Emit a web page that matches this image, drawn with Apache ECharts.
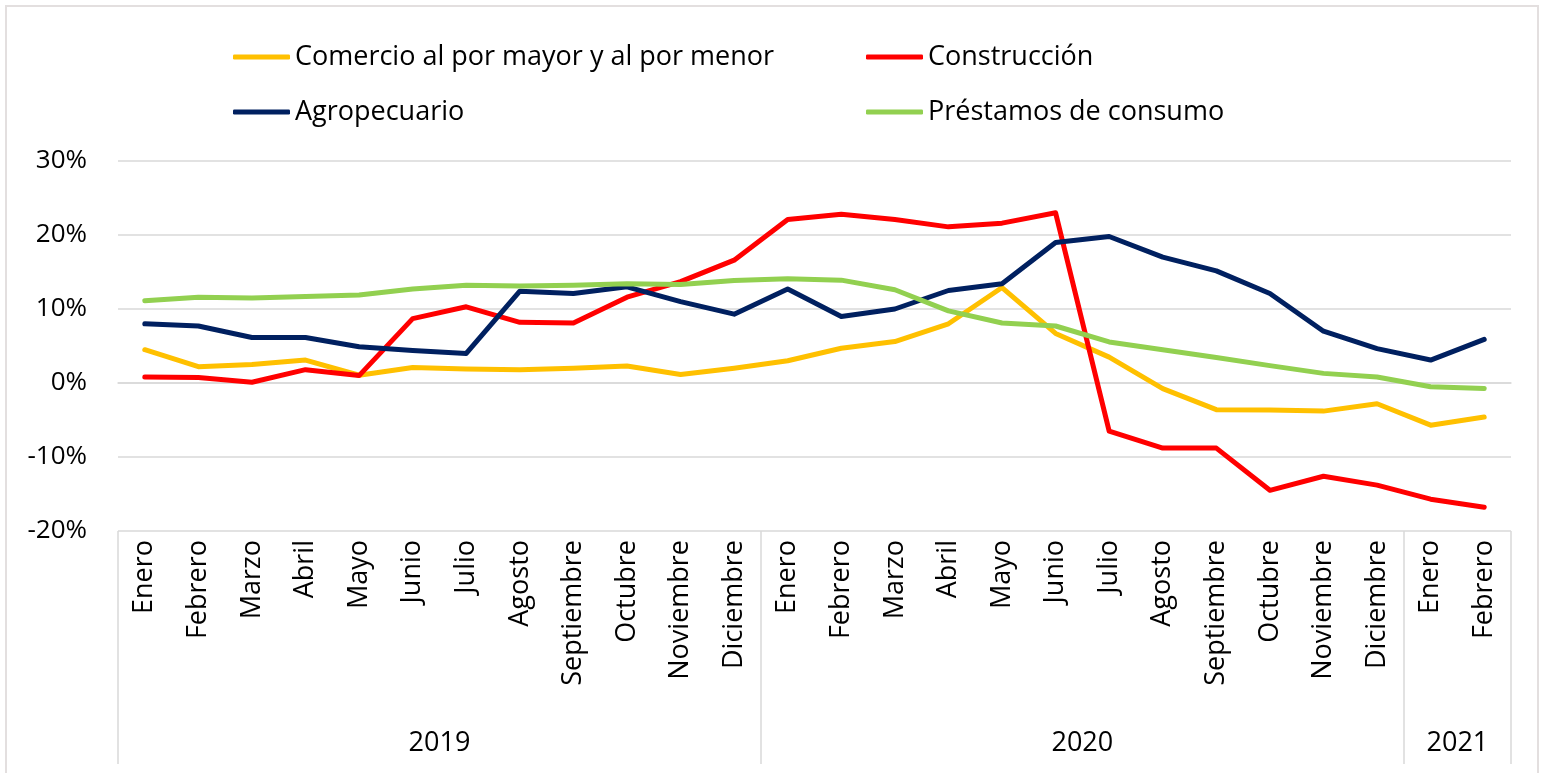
<!DOCTYPE html>
<html>
<head>
<meta charset="utf-8">
<script src="https://cdn.jsdelivr.net/npm/echarts@6/dist/echarts.min.js"></script>
<style>
  html, body { margin: 0; padding: 0; background: #fff; }
  #chart { width: 1541px; height: 773px; }
</style>
</head>
<body>
<div id="chart"></div>
<script>
const months = [
  'Enero', 'Febrero', 'Marzo', 'Abril', 'Mayo', 'Junio', 'Julio', 'Agosto',
  'Septiembre', 'Octubre', 'Noviembre', 'Diciembre',
  'Enero', 'Febrero', 'Marzo', 'Abril', 'Mayo', 'Junio', 'Julio', 'Agosto',
  'Septiembre', 'Octubre', 'Noviembre', 'Diciembre',
  'Enero', 'Febrero'
];
const years = [
  '2019', '2019', '2019', '2019', '2019', '2019', '2019', '2019', '2019', '2019', '2019', '2019',
  '2020', '2020', '2020', '2020', '2020', '2020', '2020', '2020', '2020', '2020', '2020', '2020',
  '2021', '2021'
];
// index of the month where each year starts (group boundaries)
const yearStarts = [0, 12, 24];
// month index right of each year's centre, where the year text is hung
const yearLabelAt = [6, 18, 25];

const yTicks = [-20, -10, 0, 10, 20, 30];

// % growth
const comercio = [4.5, 2.2, 2.5, 3.1, 1.05, 2.1, 1.9, 1.8, 2.0, 2.3, 1.15, 2.0,
  3.0, 4.7, 5.6, 8.0, 12.9, 6.7, 3.5, -0.75, -3.6, -3.65, -3.8, -2.8, -5.7, -4.6];
const construccion = [0.8, 0.75, 0.1, 1.8, 1.0, 8.7, 10.3, 8.2, 8.1, 11.6, 13.7, 16.6,
  22.1, 22.8, 22.1, 21.1, 21.6, 23.0, -6.5, -8.8, -8.8, -14.5, -12.6, -13.8, -15.7, -16.8];
const agropecuario = [8.0, 7.7, 6.15, 6.15, 4.9, 4.4, 4.0, 12.4, 12.1, 13.0, 11.0, 9.3,
  12.7, 9.0, 10.0, 12.5, 13.4, 19.0, 19.8, 17.0, 15.15, 12.1, 7.0, 4.65, 3.1, 5.9];
const prestamos = [11.1, 11.6, 11.5, 11.7, 11.9, 12.7, 13.2, 13.1, 13.2, 13.4, 13.3, 13.85,
  14.1, 13.9, 12.6, 9.75, 8.1, 7.7, 5.55, 4.5, 3.45, 2.35, 1.3, 0.8, -0.5, -0.75];

const FONT = '"Open Sans", sans-serif';
const GRID_GRAY = '#d9d9d9';

const chart = echarts.init(document.getElementById('chart'));

function lineSeries(name, data, color) {
  return {
    name: name,
    type: 'line',
    data: data,
    symbol: 'none',
    color: color,
    lineStyle: { width: 5, color: color, cap: 'round', join: 'round' }
  };
}

const legendText = { fontFamily: FONT, fontSize: 27, color: '#000', lineHeight: 30 };

chart.setOption({
  animation: false,
  backgroundColor: '#fff',
  graphic: [
    {
      type: 'rect',
      shape: { x: 6, y: 6, width: 1532, height: 820 },
      style: { fill: 'none', stroke: '#e3dfdf', lineWidth: 2 },
      silent: true
    }
  ],
  legend: [
    {
      orient: 'vertical',
      left: 233,
      top: 42,
      padding: 0,
      itemGap: 25,
      itemWidth: 57,
      itemHeight: 5,
      icon: 'roundRect',
      textStyle: legendText,
      data: ['Comercio al por mayor y al por menor', 'Agropecuario']
    },
    {
      orient: 'vertical',
      left: 866,
      top: 42,
      padding: 0,
      itemGap: 25,
      itemWidth: 57,
      itemHeight: 5,
      icon: 'roundRect',
      textStyle: legendText,
      data: ['Construcción', 'Préstamos de consumo']
    }
  ],
  grid: {
    left: 118,
    right: 30,
    top: 161,
    bottom: 242,
    containLabel: false
  },
  xAxis: [
    {
      type: 'category',
      data: months,
      boundaryGap: true,
      position: 'bottom',
      axisLine: { show: true, lineStyle: { color: GRID_GRAY, width: 1.5 } },
      axisTick: { show: false },
      axisLabel: {
        interval: 0,
        rotate: 90,
        margin: 9,
        fontFamily: FONT,
        fontSize: 27,
        color: '#000'
      },
      splitLine: { show: false }
    },
    {
      type: 'category',
      data: years,
      boundaryGap: true,
      position: 'bottom',
      offset: 0,
      axisLine: { show: false },
      axisTick: {
        show: true,
        length: 233,
        interval: function (idx) { return yearStarts.indexOf(idx) >= 0; },
        lineStyle: { color: GRID_GRAY, width: 1.5 }
      },
      axisLabel: {
        interval: function (idx) { return yearLabelAt.indexOf(idx) >= 0; },
        margin: 199,
        align: 'center',
        padding: [0, 53.6, 0, 0],
        fontFamily: FONT,
        fontSize: 27,
        color: '#000'
      },
      splitLine: { show: false }
    }
  ],
  yAxis: {
    type: 'value',
    min: yTicks[0],
    max: yTicks[yTicks.length - 1],
    interval: 10,
    axisLine: { show: false },
    axisTick: { show: false },
    axisLabel: {
      margin: 31,
      fontFamily: FONT,
      fontSize: 26,
      color: '#000',
      formatter: '{value}%'
    },
    splitLine: { lineStyle: { color: GRID_GRAY, width: 1.5 } }
  },
  series: [
    lineSeries('Comercio al por mayor y al por menor', comercio, '#FFC000'),
    lineSeries('Construcción', construccion, '#FF0000'),
    lineSeries('Agropecuario', agropecuario, '#002060'),
    lineSeries('Préstamos de consumo', prestamos, '#92D050')
  ]
});
</script>
</body>
</html>
